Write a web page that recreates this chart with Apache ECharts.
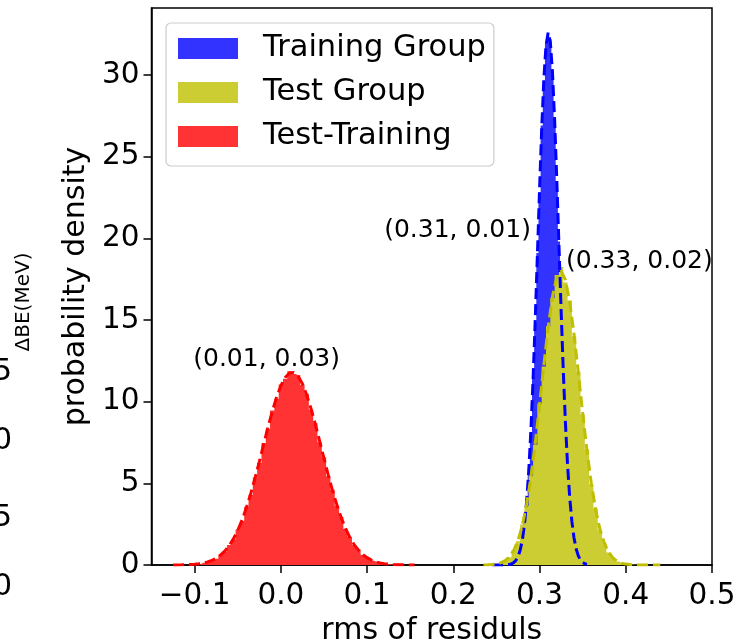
<!DOCTYPE html>
<html>
<head>
<meta charset="utf-8">
<script src="https://cdn.jsdelivr.net/npm/echarts@6/dist/echarts.min.js"></script>
<style>
html,body{margin:0;padding:0;background:#fff;}
#c{width:735px;height:643px;}
</style>
</head>
<body>
<div id="c"></div>
<script>
// ---------- data ----------
const xTicks = [-0.1, 0.0, 0.1, 0.2, 0.3, 0.4, 0.5];
const yTicks = [0, 5, 10, 15, 20, 25, 30];
const seriesNames = ['Training Group', 'Test Group', 'Test-Training'];

const xRed = [-0.125,-0.12,-0.115,-0.11,-0.105,-0.10,-0.095,-0.09,-0.085,-0.08,-0.075,-0.07,-0.065,-0.06,-0.055,-0.05,-0.045,-0.04,-0.035,-0.03,-0.025,-0.02,-0.015,-0.01,-0.005,0.0,0.005,0.01,0.015,0.02,0.025,0.03,0.035,0.04,0.045,0.05,0.055,0.06,0.065,0.07,0.075,0.08,0.085,0.09,0.095,0.10,0.105,0.11,0.115,0.12,0.125,0.13,0.135,0.14,0.145,0.15,0.155];
const histRed = [0.0,0.0,0.02,0.0,0.04,0.05,0.06,0.14,0.17,0.30,0.39,0.63,0.82,1.22,1.56,2.17,2.70,3.56,4.30,5.36,6.25,7.45,8.33,9.46,10.18,11.05,11.40,11.86,11.70,11.62,11.02,10.48,9.50,8.68,7.52,6.60,5.44,4.60,3.62,2.95,2.20,1.72,1.22,0.93,0.62,0.47,0.28,0.21,0.12,0.09,0.05,0.03,0.02,0.01,0.0,0.01,0.0];
const fitRed = [0.003,0.006,0.01,0.017,0.029,0.047,0.076,0.12,0.185,0.28,0.41,0.60,0.85,1.18,1.60,2.12,2.75,3.50,4.35,5.30,6.32,7.37,8.41,9.39,10.26,10.97,11.48,11.75,11.78,11.55,11.09,10.41,9.57,8.61,7.58,6.53,5.50,4.54,3.67,2.90,2.24,1.69,1.25,0.91,0.64,0.45,0.30,0.20,0.13,0.083,0.052,0.032,0.019,0.011,0.006,0.0035,0.002];

const xBlue = [0.245,0.25,0.255,0.26,0.265,0.2675,0.27,0.2725,0.275,0.2775,0.28,0.2825,0.285,0.2875,0.29,0.2925,0.295,0.2975,0.30,0.3025,0.305,0.3075,0.31,0.3125,0.315,0.3175,0.32,0.3225,0.325,0.3275,0.33,0.3325,0.335,0.3375,0.34,0.3425,0.345,0.3475,0.35,0.3525,0.355];
const histBlue = [0.0,0.0,0.0,0.01,0.03,0.09,0.12,0.29,0.48,0.94,1.47,2.55,3.80,5.88,8.15,11.52,14.84,19.10,22.80,26.90,29.60,31.95,32.45,32.20,30.00,27.40,23.45,19.80,15.45,12.05,8.62,6.22,4.05,2.72,1.60,1.01,0.53,0.32,0.14,0.09,0.03];
const fitBlue = [0.0,0.0,0.001,0.007,0.034,0.071,0.143,0.275,0.507,0.90,1.52,2.48,3.86,5.77,8.28,11.37,15.0,18.96,22.98,26.72,29.77,31.81,32.6,32.03,30.17,27.25,23.61,19.62,15.62,11.93,8.74,6.13,4.13,2.67,1.65,0.98,0.56,0.30,0.16,0.08,0.04];

const xYellow = [0.235,0.24,0.245,0.25,0.255,0.26,0.265,0.27,0.275,0.28,0.285,0.29,0.295,0.30,0.305,0.31,0.315,0.32,0.325,0.33,0.335,0.34,0.345,0.35,0.355,0.36,0.365,0.37,0.375,0.38,0.385,0.39,0.395,0.40,0.405,0.41,0.415,0.42,0.425,0.43,0.435,0.44];
const histYellow = [0.0,0.01,0.02,0.07,0.12,0.28,0.47,0.92,1.45,2.48,3.62,5.45,7.35,9.88,12.15,14.62,16.35,17.75,18.25,17.30,16.20,14.00,11.85,9.22,7.08,4.95,3.46,2.15,1.38,0.76,0.46,0.21,0.12,0.05,0.03,0.01,0.0,0.0,0.0,0.0,0.0,0.0];
const fitYellow = [0.005,0.013,0.03,0.064,0.134,0.265,0.50,0.88,1.50,2.41,3.70,5.38,7.44,9.79,12.24,14.54,16.43,17.63,18.0,17.46,16.10,14.11,11.75,9.30,7.00,5.01,3.41,2.20,1.35,0.79,0.44,0.23,0.116,0.055,0.025,0.011,0.004,0.002,0.001,0.0,0.0,0.0];

const annotText = ['(0.31, 0.01)', '(0.33, 0.02)', '(0.01, 0.03)'];
const annotX = [0.29, 0.3307, -0.0165];
const annotY = [20.5, 18.6, 12.6];
const annotPos = ['left', 'right', 'inside'];

// ---------- styles ----------
const FONT = 'DejaVu Sans';
const fillColors = ['#3333ff', '#cccc33', '#ff3333'];
const lineColors = ['#0000ff', '#bfbf00', '#ff0000'];

function zip(xs, ys) { return xs.map((x, i) => [x, ys[i]]); }

function histSeries(name, xs, ys, color) {
  return {
    name: name, type: 'line', step: 'middle', data: zip(xs, ys),
    symbol: 'none', showSymbol: false,
    lineStyle: { width: 0, color: color },
    itemStyle: { color: color },
    areaStyle: { color: color, opacity: 1 },
    silent: true, z: 2
  };
}
function fitSeries(xs, ys, color) {
  return {
    type: 'line', data: zip(xs, ys), symbol: 'none', showSymbol: false,
    smooth: false,
    lineStyle: { width: 3, color: color, type: [11, 5] },
    silent: true, z: 3
  };
}

const chart = echarts.init(document.getElementById('c'), null, { renderer: 'canvas' });

const option = {
  animation: false,
  backgroundColor: '#ffffff',
  textStyle: { fontFamily: FONT },
  grid: { left: 151.5, right: 23, top: 8, bottom: 78, show: true, borderColor: '#000', borderWidth: 1.5,
          backgroundColor: 'transparent', containLabel: false, outerBoundsMode: 'none' },
  legend: {
    orient: 'vertical', left: 166, top: 23,
    data: seriesNames.map((n, i) => ({ name: n, icon: 'rect', itemStyle: { color: fillColors[i], borderWidth: 0 } })),
    itemWidth: 60, itemHeight: 21, itemGap: 13,
    padding: [10, 8, 14, 12],
    backgroundColor: 'rgba(255,255,255,0.8)',
    borderColor: '#cccccc', borderWidth: 1.2, borderRadius: 5,
    lineStyle: { width: 0 },
    textStyle: { fontFamily: FONT, fontSize: 30.5, color: '#000', padding: [0, 0, 0, 20] },
    selectedMode: false, z: 10
  },
  xAxis: {
    type: 'value', min: -0.15, max: 0.5,
    name: 'rms of residuls', nameLocation: 'middle', nameGap: 50,
    nameTextStyle: { fontFamily: FONT, fontSize: 30, color: '#000' },
    splitLine: { show: false },
    axisLine: { show: true, onZero: false, lineStyle: { color: '#000', width: 1.5 } },
    axisTick: { show: true, length: 8, lineStyle: { color: '#000', width: 1.5 }, customValues: xTicks },
    axisLabel: {
      customValues: xTicks, margin: 16, color: '#000', fontFamily: FONT, fontSize: 29.5,
      formatter: v => (v < 0 ? '\u2212' + Math.abs(v).toFixed(1) : Math.abs(v).toFixed(1))
    }
  },
  yAxis: {
    type: 'value', min: 0, max: 34.1,
    name: 'probability density', nameLocation: 'middle', nameGap: 60, nameRotate: 90,
    nameTextStyle: { fontFamily: FONT, fontSize: 30, color: '#000' },
    splitLine: { show: false },
    axisLine: { show: true, onZero: false, lineStyle: { color: '#000', width: 1.5 } },
    axisTick: { show: true, length: 8, lineStyle: { color: '#000', width: 1.5 }, customValues: yTicks },
    axisLabel: { customValues: yTicks, margin: 12, color: '#000', fontFamily: FONT, fontSize: 29.5, formatter: v => String(v) }
  },
  series: [
    histSeries(seriesNames[0], xBlue, histBlue, fillColors[0]),
    histSeries(seriesNames[1], xYellow, histYellow, fillColors[1]),
    histSeries(seriesNames[2], xRed, histRed, fillColors[2]),
    fitSeries(xBlue, fitBlue, lineColors[0]),
    fitSeries(xYellow, fitYellow, lineColors[1]),
    fitSeries(xRed, fitRed, lineColors[2]),
    {
      type: 'scatter', symbolSize: 0, silent: true, z: 5,
      itemStyle: { opacity: 1 },
      data: annotText.map((t, i) => ({
        value: [annotX[i], annotY[i]],
        label: { show: true, position: annotPos[i], distance: 0, formatter: t,
                 fontFamily: FONT, fontSize: 25, color: '#000', opacity: 1 }
      }))
    }
  ],
  graphic: [
    { type: 'text', x: 24, y: 302, rotation: Math.PI / 2,
      style: { text: '\u0394BE(MeV)', fontFamily: FONT, fontSize: 20, fill: '#000', align: 'center', verticalAlign: 'middle' } },
    { type: 'text', x: 12, y: 372, style: { text: '5', fontFamily: FONT, fontSize: 30, fill: '#000', align: 'right', verticalAlign: 'middle' } },
    { type: 'text', x: 12, y: 441, style: { text: '0', fontFamily: FONT, fontSize: 30, fill: '#000', align: 'right', verticalAlign: 'middle' } },
    { type: 'text', x: 12, y: 518, style: { text: '5', fontFamily: FONT, fontSize: 30, fill: '#000', align: 'right', verticalAlign: 'middle' } },
    { type: 'text', x: 12, y: 587, style: { text: '0', fontFamily: FONT, fontSize: 30, fill: '#000', align: 'right', verticalAlign: 'middle' } }
  ]
};
chart.setOption(option);
</script>
</body>
</html>
